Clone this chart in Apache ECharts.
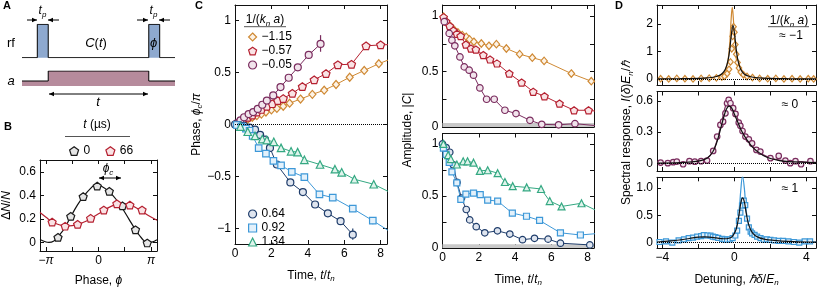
<!DOCTYPE html>
<html><head><meta charset="utf-8">
<script src="https://cdn.jsdelivr.net/npm/echarts@6/dist/echarts.min.js"></script>
<style>html,body{margin:0;padding:0;background:#fff}#c{width:830px;height:288px}</style>
</head><body><div id="c"></div>
<script>
// ================= DATA =================
// Panel A schematic (arbitrary time units)
const rfTime  = [0, 1.4, 1.4, 2.4, 2.4, 11.6, 11.6, 12.6, 12.6, 14];
const rfLevel = [0, 0,   1,   1,   0,   0,    1,    1,    0,    0];
const aTime   = [0, 2.4, 2.4, 11.6, 11.6, 14];
const aLevel  = [0, 0,   1,   1,    0,    0];

// Panel B (phase in units of pi)
const bPhase0  = [-0.772, -0.529, -0.292, -0.024, 0.206, 0.456, 0.705, 0.929];
const bSig0    = [0.046, 0.223, 0.39, 0.479, 0.435, 0.312, 0.11, -0.002];
const bPhase66 = [-0.884, -0.636, -0.398, -0.15, 0.101, 0.35, 0.598, 0.83];
const bSig66   = [0.175, 0.14, 0.156, 0.207, 0.277, 0.33, 0.318, 0.277];
const bFitX0   = [-1.115,-1.0,-0.946,-0.85,-0.772,-0.65,-0.529,-0.4,-0.29,-0.15,-0.056,0.05,0.206,0.33,0.456,0.58,0.705,0.82,0.93,1.02,1.115];
const bFitY0   = [0.027,0.006,0.003,0.015,0.05,0.12,0.22,0.32,0.39,0.46,0.49,0.48,0.43,0.37,0.29,0.2,0.11,0.04,0.0,0.005,0.025];
const bFitX66  = [-1.115,-1.0,-0.884,-0.75,-0.62,-0.5,-0.398,-0.25,-0.15,0.0,0.101,0.25,0.35,0.45,0.598,0.7,0.83,0.95,1.115];
const bFitY66  = [0.255,0.215,0.178,0.152,0.142,0.145,0.155,0.18,0.205,0.245,0.275,0.31,0.325,0.332,0.322,0.3,0.265,0.23,0.19];

// Panel C left: phase phi_c/pi vs t/t_n
const phTimeOr = [0.2,0.45,0.7,0.95,1.2,1.45,1.7,2.0,2.3,2.65,3.0,3.6,4.25,4.9,5.55,6.3,7.1,7.9,8.7];
const phOr     = [0.01,0.03,0.05,0.07,0.085,0.1,0.12,0.14,0.155,0.175,0.205,0.245,0.29,0.33,0.385,0.455,0.52,0.585,0.64];
const phTimeRd = [0.2,0.45,0.7,0.95,1.2,1.45,1.75,2.05,2.35,2.65,3.15,3.7,4.35,5.0,5.65,6.4,7.2,8.0,8.7];
const phRd     = [0.02,0.045,0.07,0.09,0.12,0.145,0.175,0.2,0.23,0.25,0.3,0.365,0.43,0.49,0.575,0.58,0.757,0.766,0.77];
const phTimePu = [0.1,0.3,0.5,0.75,1.0,1.25,1.5,1.75,2.1,2.5,2.95,3.45,4.05,4.7];
const phPu     = [0.01,0.04,0.07,0.1,0.12,0.15,0.19,0.23,0.28,0.36,0.45,0.55,0.67,0.775];
const phTimeNv = [0.0,0.25,0.5,0.8,1.1,1.38,1.65,1.92,2.3,3.04,3.73,4.4,5.1,5.8,6.47];
const phNv     = [0,-0.005,-0.012,-0.03,-0.05,-0.1,-0.145,-0.225,-0.385,-0.557,-0.65,-0.77,-0.855,-0.93,-1.06];
const phTimeLb = [0.1,0.35,0.6,0.8,0.97,1.3,1.7,2.11,2.53,3.12,3.81,4.64,5.37,6.47,7.57,8.6];
const phLb     = [-0.005,-0.02,-0.04,-0.06,-0.11,-0.227,-0.28,-0.35,-0.394,-0.455,-0.506,-0.673,-0.703,-0.81,-0.925,-1.04];
const phTimeGr = [0.3,0.7,1.1,1.5,1.75,2.13,2.53,3.08,3.44,3.81,4.67,5.49,5.86,6.56,7.62,8.6];
const phGr     = [-0.02,-0.07,-0.11,-0.14,-0.15,-0.167,-0.225,-0.258,-0.266,-0.34,-0.385,-0.43,-0.46,-0.527,-0.575,-0.66];
// error bars [t, low, high]
const errPu = [[4.7,0.70,0.86],[4.05,0.64,0.70]];
const errRd = [[7.2,0.73,0.79],[8.0,0.74,0.80],[5.0,0.47,0.51]];
const errNv = [[6.47,-1.11,-1.0],[5.8,-0.96,-0.9],[5.1,-0.88,-0.83],[4.4,-0.8,-0.74]];
const errLb = [[6.47,-0.84,-0.78],[7.57,-0.96,-0.89]];

// Panel C right: amplitude |C|
const amTimeOr = [0.06,0.17,0.29,0.48,0.66,0.85,1.09,1.31,1.49,1.73,2.14,2.56,2.97,3.52,4.25,4.95,5.6,7.1,8.2,8.6];
const amOr     = [0.994,0.958,0.934,0.903,0.873,0.853,0.828,0.813,0.79,0.768,0.753,0.732,0.747,0.708,0.657,0.625,0.596,0.482,0.413,0.4];
const amTimeRd = [0.06,0.2,0.4,0.6,0.8,1.0,1.29,1.57,1.84,2.25,2.62,3.0,3.68,4.36,5.0,5.62,6.45,7.25,8.05,8.6];
const amRd     = [0.99,0.95,0.91,0.87,0.84,0.82,0.744,0.708,0.699,0.648,0.609,0.573,0.482,0.401,0.318,0.277,0.211,0.151,0.151,0.14];
const amTimePu = [0.1,0.37,0.52,0.68,0.96,1.2,1.47,1.71,2.06,2.43,2.85,3.44,4.05,4.82,5.47,6.4,7.3,8.6];
const amPu     = [0.95,0.844,0.783,0.732,0.632,0.542,0.512,0.467,0.352,0.25,0.25,0.151,0.121,0.06,0.024,0.02,0.03,0.01];
const amTimeNv = [0,0.2,0.4,0.6,0.8,1.05,1.31,1.5,1.86,2.33,3.03,3.71,4.41,5.07,5.82,6.5,8.12];
const amNv     = [1.0,0.965,0.92,0.8,0.63,0.48,0.37,0.27,0.205,0.146,0.165,0.134,0.08,0.093,0.085,0.046,0.03];
const amTimeLb = [0.05,0.2,0.37,0.52,0.79,1.01,1.29,1.71,2.08,2.49,3.04,3.85,4.63,5.35,6.5,7.6,8.6];
const amLb     = [0.96,0.9,0.823,0.732,0.625,0.467,0.518,0.527,0.512,0.46,0.451,0.335,0.305,0.265,0.146,0.125,0.14];
const amTimeGr = [0.05,0.31,0.46,0.79,1.14,1.38,1.71,2.06,2.49,3.04,3.44,3.87,4.64,5.43,5.91,6.56,7.66,8.6];
const amGr     = [1.0,0.893,0.854,0.802,0.833,0.833,0.82,0.741,0.747,0.719,0.634,0.594,0.582,0.567,0.451,0.399,0.43,0.35];

// Panel D: spectral response vs detuning
const dDetOr = [-4.1,-3.65,-3.2,-2.75,-2.3,-1.85,-1.4,-1.0,-0.7,-0.55,-0.4,-0.3,-0.22,-0.15,-0.1,-0.05,0.0,0.05,0.1,0.17,0.25,0.35,0.5,0.7,1.0,1.4,1.85,2.3,2.75,3.2,3.65,4.1,4.4];
const dSpOr  = [0.01,0.0,0.02,0.01,0.0,0.02,0.03,0.04,0.07,0.1,0.2,0.35,0.62,1.1,1.55,1.9,1.7,1.25,0.9,0.6,0.4,0.25,0.15,0.09,0.05,0.02,0.01,0.02,0.0,0.01,0.0,0.01,0.0];
const dFitXOr = [-4.3,-3,-2,-1.5,-1,-0.7,-0.5,-0.35,-0.25,-0.18,-0.12,-0.06,0.01,0.11,0.26,0.46,0.76,1.26,2,3,4.55];
const dFitOr  = [0.003,0.006,0.014,0.027,0.064,0.143,0.31,0.7,1.4,2.2,2.6,2.2,1.4,0.7,0.31,0.143,0.064,0.027,0.011,0.005,0.002];
const dFitXK1 = [-4.3,-3,-2,-1.5,-1,-0.7,-0.5,-0.35,-0.25,-0.18,-0.08,0.02,0.09,0.19,0.34,0.54,0.84,1.34,2,3,4.55];
const dFitK1  = [0.004,0.009,0.021,0.038,0.088,0.18,0.36,0.69,1.13,1.56,1.95,1.56,1.13,0.69,0.36,0.18,0.088,0.038,0.018,0.008,0.004];

const dDetPu = [-4.1,-3.7,-3.4,-3.2,-2.85,-2.5,-2.2,-1.85,-1.52,-1.18,-0.96,-0.78,-0.63,-0.5,-0.41,-0.32,-0.22,-0.07,0.06,0.24,0.33,0.45,0.61,0.8,0.98,1.22,1.44,2.0,2.46,2.83,3.1,3.39,3.7,4.22];
const dSpPu  = [0.006,0.0,0.01,0.016,-0.01,0.02,0.015,0.02,0.025,0.118,0.256,0.368,0.4,0.48,0.577,0.61,0.577,0.53,0.474,0.39,0.36,0.31,0.256,0.23,0.19,0.128,0.112,0.048,0.07,0.025,0.0,0.02,-0.01,0.02];
const dFitXMid = [-4.3,-3,-2,-1.5,-1.2,-1.0,-0.8,-0.6,-0.45,-0.3,-0.15,0,0.2,0.4,0.6,0.8,1.0,1.3,1.6,2,2.5,3,4,4.55];
const dFitPu   = [0.0,0.005,0.02,0.05,0.11,0.2,0.33,0.48,0.57,0.6,0.58,0.51,0.42,0.34,0.27,0.21,0.165,0.115,0.08,0.05,0.03,0.02,0.01,0.008];
const dFitK0   = [0.0,0.005,0.02,0.05,0.11,0.19,0.31,0.44,0.52,0.55,0.53,0.47,0.39,0.31,0.25,0.2,0.155,0.11,0.075,0.045,0.025,0.015,0.008,0.006];

const dDetLb = [-4.16,-3.8,-3.45,-3.1,-2.8,-2.54,-2.3,-2.07,-1.85,-1.7,-1.5,-1.33,-1.2,-1.06,-0.9,-0.68,-0.55,-0.41,-0.25,-0.1,0.05,0.15,0.25,0.33,0.42,0.52,0.6,0.7,0.8,0.9,0.98,1.12,1.26,1.45,1.63,1.8,2.0,2.2,2.46,2.7,3.0,3.3,3.6,3.9,4.2];
const dSpLb  = [0.01,0.02,0.0,0.04,0.06,0.082,0.09,0.11,0.12,0.137,0.13,0.126,0.11,0.1,0.085,0.066,0.06,0.055,0.06,0.08,0.13,0.22,0.4,0.55,0.68,0.77,0.69,0.44,0.28,0.2,0.17,0.14,0.11,0.08,0.055,0.06,0.05,0.04,0.03,0.03,0.02,0.01,0.0,0.02,0.02];
const dFitXBot = [-4.3,-3.5,-3,-2.5,-2,-1.7,-1.4,-1,-0.6,-0.3,-0.1,0.1,0.25,0.35,0.45,0.55,0.65,0.8,1.0,1.3,1.7,2.2,3,4,4.55];
const dFitLb   = [0.01,0.03,0.05,0.08,0.11,0.12,0.115,0.09,0.07,0.08,0.12,0.25,0.55,0.95,1.22,1.0,0.6,0.3,0.16,0.09,0.06,0.04,0.02,0.01,0.01];
const dFitK2   = [0.01,0.03,0.05,0.075,0.1,0.105,0.1,0.085,0.07,0.08,0.12,0.25,0.5,0.72,0.82,0.75,0.55,0.32,0.18,0.1,0.06,0.04,0.02,0.01,0.01];

// tick labels
const bXLabels = [-1, 0, 1];
const bYLabels = [0, 0.2, 0.4, 0.6];
const cXLabels = [0, 2, 4, 6, 8];
const cPhLabels = [-1, -0.5, 0, 0.5, 1];
const cAmLabels = [0, 0.5, 1];
const dXLabels = [-4, 0, 4];
const dYTop = [0, 1, 2];
const dYMid = [0, 0.3, 0.6];
const dYBot = [0, 0.5, 1];

// ================= STYLE =================
const FONT = '"Liberation Sans", Arial, Helvetica, sans-serif';
const C = {
  or:['#cf8934','#fdf3e6'], rd:['#b52030','#f9e3e5'], pu:['#7a2c5e','#f1e4ec'],
  nv:['#1f3d6b','#dfe5ef'], lb:['#3d98d8','#e3f1fb'], gr:['#34a882','#e0f4ec'],
  bk:['#1a1a1a','#e6e6e6']
};
const PENT = 'path://M0,-10L9.51,-3.09L5.88,8.09L-5.88,8.09L-9.51,-3.09Z';
const RICH = {
  i:{fontStyle:'italic', fontFamily:FONT, fontSize:12, color:'#000'},
  sub:{fontStyle:'italic', fontFamily:FONT, fontSize:8, color:'#000', padding:[7,0,0,0]},
  r:{fontFamily:FONT, fontSize:12, color:'#000'}
};
const minus = v => String(v).replace('-', '\u2212');

const grids=[], xAxes=[], yAxes=[], series=[];
function mkAxis(gi, s, pos, main, isY){
  const a = {
    gridIndex:gi, type:'value', position:pos, min:s.min, max:s.max, show: s.hide? false : true,
    axisLine:{show:true, onZero:false, lineStyle:{color:'#111', width:1}},
    axisTick:{show:true, inside:true, length:4, customValues:s.ticks, lineStyle:{color:'#111', width:1}},
    axisLabel:{show: !!(main && s.labels), customValues: s.labels || [], formatter: s.fmt || minus,
      color:'#000', fontFamily:FONT, fontSize:12, margin:4, rich:RICH},
    splitLine:{show:false}, minorTick:{show:false}
  };
  if (main && s.name){
    a.name = s.name; a.nameLocation='middle'; a.nameGap=s.nameGap;
    if (isY) { a.nameRotate = 90; a.nameMoveOverlap = false; }
    a.nameTextStyle = {fontFamily:FONT, fontSize:12, color:'#000', rich:RICH};
  }
  return a;
}
function addPanel(g, xs, ys){
  const gi = grids.length;
  grids.push(Object.assign({show:false}, g));
  const x = xAxes.length;
  xAxes.push(mkAxis(gi, xs, 'bottom', true, false));
  xAxes.push(mkAxis(gi, xs, 'top', false, false));
  const y = yAxes.length;
  yAxes.push(mkAxis(gi, ys, 'left', true, true));
  yAxes.push(mkAxis(gi, ys, 'right', false, true));
  return {x, y};
}
const zip = (xs, ys) => xs.map((x,i)=>[x, ys[i]]);
function marks(name, xs, ys, ax, sym, size, col, withLine, extra){
  return Object.assign({
    type:'line', name, xAxisIndex:ax.x, yAxisIndex:ax.y, data:zip(xs,ys),
    symbol:sym, symbolSize:size, showSymbol:true, showAllSymbol:true, symbolKeepAspect:true,
    lineStyle: withLine ? {color:col[0], width:1} : {width:0, opacity:0},
    itemStyle:{color:col[1], borderColor:col[0], borderWidth:1.2},
    clip:true, animation:false, z:3, emphasis:{disabled:true}
  }, extra || {});
}
function curve(xs, ys, ax, color, width, z){
  return {type:'line', xAxisIndex:ax.x, yAxisIndex:ax.y, data:zip(xs,ys), symbol:'none',
    smooth:0.4, lineStyle:{color, width: width || 1.2}, clip:true, animation:false, z: z || 2,
    emphasis:{disabled:true}};
}
function errs(data, ax, color){
  return {type:'custom', xAxisIndex:ax.x, yAxisIndex:ax.y, data, z:2, animation:false, clip:true,
    encode:{x:0, y:[1,2]},
    renderItem:(p, api)=>{
      const a = api.coord([api.value(0), api.value(1)]), b = api.coord([api.value(0), api.value(2)]);
      return {type:'line', shape:{x1:a[0], y1:a[1], x2:b[0], y2:b[1]}, style:{stroke:color, lineWidth:1.2}};
    }};
}
const zeroLine = {silent:true, symbol:'none', label:{show:false}, animation:false,
  lineStyle:{type:'dotted', color:'#000', width:1}, data:[{yAxis:0}]};
const grayBand = {silent:true, itemStyle:{color:'#c9c9c9'}, data:[[{yAxis:0},{yAxis:0.035}]]};

// ---- Panel A ----
const axRf = addPanel({left:22, top:24.3, width:153, height:33.4},
  {min:0, max:14, hide:true}, {min:0, max:1, hide:true});
const axA  = addPanel({left:22, top:71, width:153, height:15},
  {min:0, max:14, hide:true}, {min:-0.5, max:1, hide:true});
series.push({type:'line', xAxisIndex:axRf.x, yAxisIndex:axRf.y, data:zip(rfTime, rfLevel), symbol:'none',
  lineStyle:{color:'#000', width:1}, areaStyle:{color:'#8ea9cf', opacity:1, origin:'start'}, animation:false});
series.push({type:'line', xAxisIndex:axA.x, yAxisIndex:axA.y, data:zip(aTime, aLevel), symbol:'none',
  lineStyle:{color:'#000', width:1}, areaStyle:{color:'#b68b9c', opacity:1, origin:'start'}, animation:false});

// ---- Panel B ----
const axB = addPanel({left:38, top:160, width:119, height:96},
  {min:-1.115, max:1.115, ticks:[-1,-0.5,0,0.5,1], labels:bXLabels,
   fmt:v=> v===0 ? '0' : (v<0 ? '\u2212{i|\u03c0}' : '{i|\u03c0}'), name:'Phase, {i|\u03d5}', nameGap:24},
  {min:-0.07, max:0.7, ticks:bYLabels, labels:bYLabels, fmt:v=> v===0 ? '0' : v.toFixed(1),
   name:'\u0394{i|N}/{i|N}', nameGap:27});
series.push(curve(bFitX0, bFitY0, axB, '#111', 1.2));
series.push(curve(bFitX66, bFitY66, axB, C.rd[0], 1.2));
series.push(marks('0', bPhase0, bSig0, axB, PENT, 8, C.bk, false));
series.push(marks('66', bPhase66, bSig66, axB, PENT, 8, C.rd, false));

// ---- Panel C left ----
const axCL = addPanel({left:235, top:5, width:152, height:250},
  {min:0, max:8.35, ticks:cXLabels, labels:cXLabels, name:'Time, {i|t}/{i|t}{sub|n}', nameGap:24},
  {min:-1.15, max:1.15, ticks:cPhLabels, labels:cPhLabels, name:'Phase, {i|\u03d5}{sub|c}/{i|\u03c0}', nameGap:31});
series.push(marks('\u22121.15', phTimeOr, phOr, axCL, 'diamond', [7,8], C.or, true,
  {markLine: zeroLine}));
series.push(marks('\u22120.57', phTimeRd, phRd, axCL, PENT, 8, C.rd, true));
series.push(marks('\u22120.05', phTimePu, phPu, axCL, 'circle', 7, C.pu, true));
series.push(marks('0.64', phTimeNv, phNv, axCL, 'circle', 7, C.nv, true));
series.push(marks('0.92', phTimeLb, phLb, axCL, 'rect', 6.5, C.lb, true));
series.push(marks('1.34', phTimeGr, phGr, axCL, 'triangle', 7.5, C.gr, true));
series.push(errs(errPu, axCL, C.pu[0]));
series.push(errs(errRd, axCL, C.rd[0]));
series.push(errs(errNv, axCL, C.nv[0]));
series.push(errs(errLb, axCL, C.lb[0]));

// ---- Panel C right ----
const axCU = addPanel({left:442.5, top:5, width:151.5, height:122},
  {min:0, max:8.35, ticks:cXLabels},
  {min:0, max:1.1, ticks:[0,0.25,0.5,0.75,1], labels:cAmLabels});
const axCB = addPanel({left:442.5, top:133.5, width:151.5, height:122},
  {min:0, max:8.35, ticks:cXLabels, labels:cXLabels, name:'Time, {i|t}/{i|t}{sub|n}', nameGap:24},
  {min:0, max:1.1, ticks:[0,0.25,0.5,0.75,1], labels:cAmLabels});
series.push(marks('\u22121.15', amTimeOr, amOr, axCU, 'diamond', [6.5,7.5], C.or, true, {markArea: grayBand}));
series.push(marks('\u22120.57', amTimeRd, amRd, axCU, PENT, 7.5, C.rd, true));
series.push(marks('\u22120.05', amTimePu, amPu, axCU, 'circle', 6.5, C.pu, true));
series.push(marks('0.64', amTimeNv, amNv, axCB, 'circle', 6.5, C.nv, true, {markArea: grayBand}));
series.push(marks('0.92', amTimeLb, amLb, axCB, 'rect', 6, C.lb, true));
series.push(marks('1.34', amTimeGr, amGr, axCB, 'triangle', 7, C.gr, true));

// ---- Panel D ----
const dx = {min:-4.3, max:4.53, ticks:[-4,-2,0,2,4]};
const axDT = addPanel({left:657, top:5, width:159, height:80}, dx,
  {min:-0.22, max:2.69, ticks:dYTop, labels:dYTop});
const axDM = addPanel({left:657, top:91.5, width:159, height:79.5}, dx,
  {min:-0.075, max:0.69, ticks:dYMid, labels:dYMid, fmt:v=> v===0?'0':v.toFixed(1)});
const axDB = addPanel({left:657, top:177.3, width:159, height:78.7},
  Object.assign({labels:dXLabels, name:'Detuning, {i|\u210f\u03b4}/{i|E}{sub|n}', nameGap:24}, dx),
  {min:-0.1, max:1.2, ticks:dYBot, labels:dYBot, fmt:v=> v===0?'0':v.toFixed(1)});
series.push(Object.assign(curve(dFitXOr, dFitOr, axDT, C.or[0], 1.2), {markLine: zeroLine}));
series.push(marks('dOr', dDetOr, dSpOr, axDT, 'diamond', [5.5,6.5], C.or, false));
series.push(curve(dFitXK1, dFitK1, axDT, '#111', 1.2, 4));
series.push(Object.assign(curve(dFitXMid, dFitPu, axDM, C.pu[0], 1.2), {markLine: zeroLine}));
series.push(marks('dPu', dDetPu, dSpPu, axDM, 'circle', 5.5, C.pu, false));
series.push(curve(dFitXMid, dFitK0, axDM, '#111', 1.2, 4));
series.push(Object.assign(curve(dFitXBot, dFitLb, axDB, C.lb[0], 1.2), {markLine: zeroLine}));
series.push(marks('dLb', dDetLb, dSpLb, axDB, 'rect', 5, C.lb, false));
series.push(curve(dFitXBot, dFitK2, axDB, '#111', 1.2, 4));

// ================= ANNOTATIONS =================
function txt(x, y, text, o){
  o = o || {};
  return {type:'text', x, y, silent:true, rotation:o.rot || 0, z:10,
    style:{text, fill:'#000', fontFamily:FONT, fontSize:o.size || 12, fontWeight:o.bold?'bold':'normal',
      fontStyle:o.italic?'italic':'normal', align:o.align || 'center', verticalAlign:'middle',
      textAlign:o.align || 'center', textVerticalAlign:'middle', rich:o.rich || RICH}};
}
function seg(x1,y1,x2,y2,col){
  return {type:'line', silent:true, z:10, shape:{x1,y1,x2,y2}, style:{stroke:col||'#000', lineWidth:1}};
}
function head(x, y, dir){
  const s = dir === 'r' ? -1 : 1;
  return {type:'polygon', silent:true, z:10, shape:{points:[[x,y],[x+s*5,y-2.3],[x+s*5,y+2.3]]}, style:{fill:'#000'}};
}
const ctRich = {a:{fontStyle:'italic', fontFamily:FONT, fontSize:13}, b:{fontFamily:FONT, fontSize:13}};
const graphics = [
  txt(7, 6, 'A', {bold:true, size:11}),
  txt(8, 127, 'B', {bold:true, size:11}),
  txt(199, 6, 'C', {bold:true, size:11}),
  txt(619, 6, 'D', {bold:true, size:11}),
  // Panel A
  txt(11, 43, 'rf', {size:13}),
  txt(11, 81, 'a', {size:13, italic:true}),
  txt(96, 43, '{a|C}{b|(}{a|t}{b|)}', {size:13, rich:ctRich}),
  txt(153.5, 43, '\u03d5', {size:13, italic:true}),
  txt(42.5, 11, '{i|t}{sub|p}'),
  txt(153.5, 11, '{i|t}{sub|p}'),
  seg(27,20,37,20), head(37,20,'r'), seg(59,20,48,20), head(48,20,'l'),
  seg(137,20,148,20), head(148,20,'r'), seg(170,20,159,20), head(159,20,'l'),
  seg(49,94,148,94), head(49,94,'l'), head(148,94,'r'),
  txt(98, 102, 't', {size:13, italic:true}),
  // Panel B
  txt(97, 125, '{i|t} (\u00b5s)'),
  seg(65,136.5,130,136.5,'#555'),
  txt(108, 169, '{i|\u03d5}{sub|c}'),
  seg(99,178,121,178), head(99,178,'l'), head(121,178,'r'),
  // Panel C
  txt(265, 20, '1/({i|k}{sub|n} {i|a})'),
  seg(244,26.7,286,26.7,'#555'),
  txt(408, 130, 'Amplitude, |{i|C}|', {rot:Math.PI/2}),
  // Panel D
  txt(789, 21, '1/({i|k}{sub|n} {i|a})'),
  seg(768,26.7,809,26.7,'#555'),
  txt(791, 36, '\u2248 \u22121'),
  txt(790, 105, '\u2248 0'),
  txt(790, 189, '\u2248 1'),
  txt(627, 133, 'Spectral response, {i|I}({i|\u03b4}){i|E}{sub|n}/{i|\u210f}', {rot:Math.PI/2})
];

const legendText = {fontFamily:FONT, fontSize:12, color:'#000'};
const li = (name, icon, col) => ({name, icon, itemStyle:{color:col[1], borderColor:col[0], borderWidth:1.2}});
const option = {
  animation:false,
  backgroundColor:'#fff',
  grid: grids, xAxis: xAxes, yAxis: yAxes, series,
  legend: [
    {data:[li('\u22121.15','diamond',C.or), li('\u22120.57',PENT,C.rd), li('\u22120.05','circle',C.pu)],
     orient:'vertical', left:243, top:26, itemWidth:8, itemHeight:8, itemGap:2, selectedMode:false,
     textStyle:legendText},
    {data:[li('0.64','circle',C.nv), li('0.92','rect',C.lb), li('1.34','triangle',C.gr)],
     orient:'vertical', left:243, top:203, itemWidth:8, itemHeight:8, itemGap:2, selectedMode:false,
     textStyle:legendText},
    {data:[li('0',PENT,C.bk), li('66',PENT,C.rd)],
     orient:'horizontal', left:64, top:140, itemWidth:9, itemHeight:9, itemGap:15, selectedMode:false,
     textStyle:legendText}
  ],
  graphic: graphics
};
const chart = echarts.init(document.getElementById('c'), null, {renderer:'canvas'});
chart.setOption(option);
</script></body></html>
